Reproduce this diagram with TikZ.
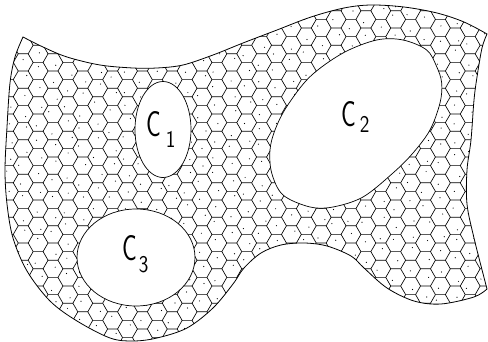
\documentclass[tikz,border=0pt]{standalone}
\usepackage{graphicx}
\newcommand{\clab}[3]{\sffamily\scalebox{0.68}[1]{\fontsize{36}{36}\selectfont C}\hspace{#3}\raisebox{-#2}{\scalebox{0.85}[1]{\fontsize{24}{24}\selectfont #1}}}
\begin{document}
\begin{tikzpicture}[x=1pt,y=-1pt,
  hexline/.style={line width=0.65pt,black},
  outline/.style={line width=0.8pt,black},
  hole/.style={line width=0.7pt,black},
  lab/.style={anchor=base west,inner sep=0pt}]
\useasboundingbox (0,0) rectangle (488,342);
\def\outerpath{plot[smooth,tension=0.55] coordinates {(23,37) (43,47) (67,57) (100,65) (133,68) (157,68) (183,65) (213,55) (243,43) (277,30) (311,17) (344,8) (371,5) (404,7) (437,13) (464,22) (487,34)}
 -- plot[smooth,tension=0.55] coordinates {(487,34) (482,48) (477,77) (474,100) (471,140) (467,170) (467,204) (474,238) (487,289)}
 -- plot[smooth,tension=0.55] coordinates {(487,289) (474,297) (441,304) (414,301) (387,288) (364,268) (351,256) (327,246) (304,243) (281,245) (261,253) (244,268) (233,284) (213,308) (187,328) (157,338) (133,341) (110,338) (77,321) (50,301) (27,271) (13,238) (7,204) (5,170) (7,127) (10,83) (15,57) (23,37)} -- cycle}
\def\cone{(163,129.5) ellipse (28 and 48)}
\def\cthree{(136,257.5) ellipse (59 and 48.5)}
\def\ctwo{plot[smooth cycle,tension=0.55] coordinates {(376.7,40) (403,40) (426.7,50) (436.7,66.7) (441.7,83) (440,103) (430,130) (413,153) (393,173) (363,197) (333,207) (310,207) (283,195) (271.7,173) (270,150) (275,130) (286.7,106.7) (310,76.7) (343,53)}}
\begin{scope}[even odd rule]
\clip \outerpath \cone \cthree \ctwo;
\pgfmathsetseed{11}
\foreach \i in {-14,...,20}{
  \pgfmathtruncatemacro\jlo{floor((-220-8.6*\i)/17.2)}
  \pgfmathtruncatemacro\jhi{ceil((165-8.6*\i)/17.2)}
  \foreach \j in {\jlo,...,\jhi}{
    \pgfmathsetmacro\cx{202+14.9*\i}
    \pgfmathsetmacro\cy{200+8.6*\i+17.2*\j}
    \draw[hexline] (\cx-4.97,\cy+8.6) -- (\cx-9.93,\cy) -- (\cx-4.97,\cy-8.6) -- (\cx+4.97,\cy-8.6);
    \pgfmathsetmacro\dx{4.5*rand}
    \pgfmathsetmacro\dy{4.5*rand}
    \fill (\cx+\dx,\cy+\dy) circle (0.6);
  }
}
\end{scope}
\draw[outline] \outerpath;
\draw[hole] \cone;
\draw[hole] \cthree;
\draw[hole] \ctwo;
\node[lab] (l1) at (146,137) {\clab{1}{11pt}{5pt}};
\node[lab] (l2) at (341,127) {\clab{2}{6pt}{4pt}};
\node[lab] (l3) at (122,261) {\clab{3}{12pt}{2pt}};
\end{tikzpicture}
\end{document}
